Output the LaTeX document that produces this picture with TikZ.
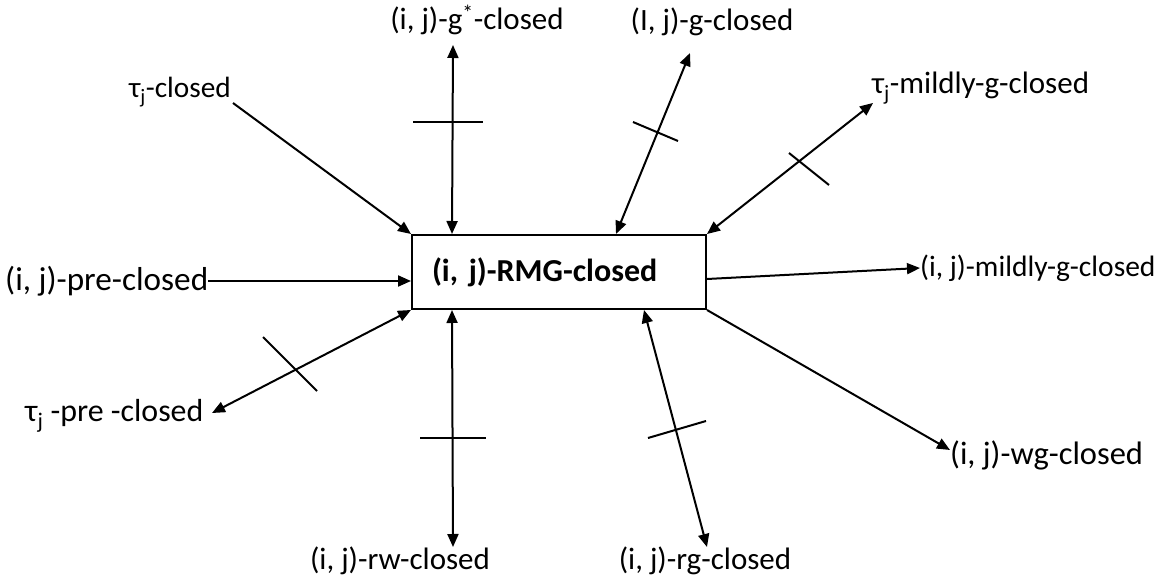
\documentclass[tikz,border=0pt]{standalone}
\usepackage{fontspec}
\setmainfont{Carlito}
\usetikzlibrary{arrows.meta}
\newcommand{\fs}[1]{\fontsize{#1}{36}\selectfont}
\begin{document}
\begin{tikzpicture}[x=1pt,y=-1pt,
  lab/.style={inner sep=0pt, font=\fs{31}},
  conn/.style={line width=2pt, -{Triangle[length=13pt,width=11pt]}},
  both/.style={line width=2pt, {Triangle[length=13pt,width=11pt]}-{Triangle[length=13pt,width=11pt]}},
  tickmark/.style={line width=2pt}]
\useasboundingbox (0,0) rectangle (1163,578);
% central box
\node[draw, line width=2pt, text width=254pt, inner xsep=20pt, inner ysep=0pt,
      minimum height=74pt, align=left, font=\fs{32}\bfseries]
      (box) at (559,272) {(i, j)-RMG-closed};
% labels
\node[lab, anchor=east, font=\fs{29.3}] (tc) at (231,92) {τ\textsubscript{j}-closed};
\node[lab] (gs) at (477,20) {(i, j)-g\textsuperscript{*}-closed};
\node[lab] (gc) at (712,22) {(I, j)-g-closed};
\node[lab, anchor=west] (tm) at (872,88) {τ\textsubscript{j}-mildly-g-closed};
\node[lab, anchor=west, font=\fs{33.2}] (pc) at (5,281) {(i, j)-pre-closed};
\node[lab, anchor=west, font=\fs{31.9}] (tp) at (25,416) {τ\textsubscript{j} -pre -closed};
\node[lab] (rw) at (400,561) {(i, j)-rw-closed};
\node[lab] (rg) at (705,561) {(i, j)-rg-closed};
\node[lab, anchor=west, font=\fs{29.5}] (mg) at (920,268) {(i, j)-mildly-g-closed};
\node[lab, anchor=west, font=\fs{32.5}] (wg) at (950,455) {(i, j)-wg-closed};
% connector end points near labels
\coordinate (tcE) at (233,103);
\coordinate (gsE) at (453,45);
\coordinate (gcE) at (690,53);
\coordinate (tmE) at (873,103);
\coordinate (tpE) at (212,413);
\coordinate (rwE) at (453,547);
\coordinate (rgE) at (707,547);
% connectors
\draw[conn] (tcE) -- (box.north west);
\draw[both] (gsE) -- ([xshift=41pt]box.north west);
\draw[both] ([xshift=205pt]box.north west) -- (gcE);
\draw[both] (box.north east) -- (tmE);
\draw[conn] (pc.east) -- (pc.east -| box.west);
\draw[both] (tpE) -- (box.south west);
\draw[both] ([xshift=41pt]box.south west) -- (rwE);
\draw[both] ([xshift=233pt]box.south west) -- (rgE);
\draw[conn] ([yshift=-7pt]box.east) -- (mg.west);
\draw[conn] (box.south east) -- ([yshift=5pt]wg.west);
% tick marks
\draw[tickmark] (413,122) -- (483,122);
\draw[tickmark] (633,122) -- (678,141);
\draw[tickmark] (789,153) -- (829,185);
\draw[tickmark] (263,337) -- (317,391);
\draw[tickmark] (420,438) -- (486,438);
\draw[tickmark] (648,438) -- (706,421);
\end{tikzpicture}
\end{document}
